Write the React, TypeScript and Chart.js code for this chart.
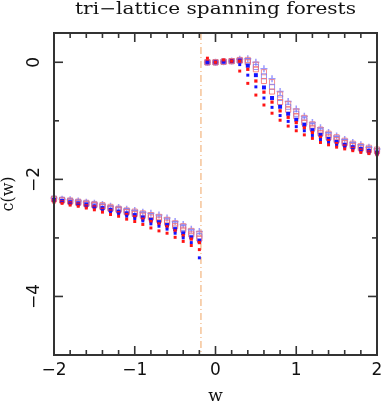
import React, { useEffect, useRef } from "react";
import { Chart, registerables } from "chart.js";

Chart.register(...registerables);

// ---- data ----
const wLeft = [-2.0, -1.9, -1.8, -1.7, -1.6, -1.5, -1.4, -1.3, -1.2, -1.1, -1.0, -0.9, -0.8, -0.7, -0.6, -0.5, -0.4, -0.3, -0.2];
const wRight = [-0.1, 0.0, 0.1, 0.2, 0.3, 0.4, 0.5, 0.6, 0.7, 0.8, 0.9, 1.0, 1.1, 1.2, 1.3, 1.4, 1.5, 1.6, 1.7, 1.8, 1.9, 2.0];

// series 1 (red, small filled)
const s1Left = [-2.39, -2.41, -2.44, -2.46, -2.49, -2.52, -2.56, -2.6, -2.63, -2.68, -2.72, -2.77, -2.83, -2.88, -2.92, -2.99, -3.06, -3.13, -3.2];
const s1Right = [0.07, 0.0, 0.04, 0.02, -0.15, -0.36, -0.56, -0.73, -0.87, -0.99, -1.09, -1.17, -1.24, -1.3, -1.37, -1.41, -1.45, -1.48, -1.51, -1.54, -1.56, -1.58];
// series 2 (blue, small filled)
const s2Left = [-2.37, -2.39, -2.42, -2.44, -2.47, -2.49, -2.53, -2.56, -2.59, -2.63, -2.67, -2.71, -2.76, -2.8, -2.85, -2.92, -3.0, -3.08, -3.34];
const s2Right = [0.0, 0.0, 0.01, 0.02, -0.04, -0.22, -0.42, -0.61, -0.77, -0.91, -1.01, -1.1, -1.17, -1.25, -1.32, -1.37, -1.42, -1.45, -1.49, -1.52, -1.55, -1.57];
// series 3 (red, filled)
const s3Left = [-2.36, -2.38, -2.4, -2.42, -2.45, -2.47, -2.51, -2.54, -2.57, -2.6, -2.64, -2.68, -2.72, -2.76, -2.81, -2.88, -2.96, -3.02, -3.08];
const s3Right = [0.01, 0.0, 0.02, 0.02, 0.02, -0.12, -0.32, -0.51, -0.68, -0.83, -0.94, -1.03, -1.12, -1.2, -1.28, -1.34, -1.39, -1.43, -1.47, -1.5, -1.53, -1.55];
// series 4 (blue, filled)
const s4Left = [-2.35, -2.37, -2.39, -2.41, -2.43, -2.46, -2.49, -2.52, -2.55, -2.58, -2.61, -2.65, -2.69, -2.73, -2.78, -2.85, -2.92, -2.99, -3.05];
const s4Right = [0.0, 0.0, 0.01, 0.02, 0.03, -0.06, -0.22, -0.43, -0.61, -0.76, -0.88, -0.98, -1.07, -1.16, -1.24, -1.31, -1.36, -1.41, -1.45, -1.48, -1.51, -1.54];
// series 5 (red, open square)
const s5Left = [-2.34, -2.36, -2.38, -2.4, -2.42, -2.44, -2.47, -2.5, -2.52, -2.56, -2.59, -2.62, -2.65, -2.69, -2.74, -2.8, -2.86, -2.94, -3.01];
const s5Right = [0.0, 0.0, 0.01, 0.02, 0.03, 0.0, -0.12, -0.32, -0.5, -0.68, -0.81, -0.92, -1.03, -1.12, -1.21, -1.28, -1.33, -1.38, -1.43, -1.47, -1.5, -1.52];
// series 6 (blue, open square)
const s6Left = [-2.33, -2.35, -2.37, -2.39, -2.41, -2.43, -2.46, -2.49, -2.51, -2.54, -2.57, -2.6, -2.63, -2.67, -2.72, -2.77, -2.83, -2.91, -2.97];
const s6Right = [0.0, 0.0, 0.01, 0.02, 0.03, 0.02, -0.08, -0.24, -0.42, -0.61, -0.76, -0.88, -0.99, -1.09, -1.18, -1.25, -1.31, -1.36, -1.41, -1.45, -1.48, -1.51];
// series 7 (red, open square, light)
const s7Left = [-2.33, -2.35, -2.36, -2.38, -2.4, -2.42, -2.44, -2.47, -2.5, -2.53, -2.55, -2.58, -2.61, -2.64, -2.69, -2.75, -2.8, -2.88, -2.93];
const s7Right = [0.0, 0.0, 0.01, 0.02, 0.04, 0.04, -0.04, -0.17, -0.34, -0.55, -0.71, -0.84, -0.95, -1.06, -1.15, -1.22, -1.28, -1.34, -1.39, -1.43, -1.46, -1.49];
// series 8 (blue, plus)
const s8Left = [-2.32, -2.34, -2.35, -2.37, -2.39, -2.41, -2.43, -2.46, -2.48, -2.51, -2.53, -2.56, -2.58, -2.61, -2.66, -2.72, -2.77, -2.85, -2.89];
const s8Right = [0.0, 0.0, 0.01, 0.02, 0.05, 0.06, 0.0, -0.11, -0.28, -0.5, -0.67, -0.8, -0.92, -1.03, -1.12, -1.2, -1.26, -1.32, -1.37, -1.41, -1.45, -1.48];

const wCritical = -0.18;
const xMin = -2;
const xMax = 2;
const yMin = -5;
const yMax = 0.5;
const xMajorTicks = [-2, -1, 0, 1, 2];
const xTickLabels = ["\u22122", "\u22121", "0", "1", "2"];
const xMinorTicks = [-1.8, -1.6, -1.4, -1.2, -0.8, -0.6, -0.4, -0.2, 0.2, 0.4, 0.6, 0.8, 1.2, 1.4, 1.6, 1.8];
const yMajorTicks = [0, -2, -4];
const yTickLabels = ["0", "\u22122", "\u22124"];
const yMinorTicks = [-1, -3];
const titleText = "tri\u2212lattice spanning forests";
const xTitle = "w";
const yTitle = "c(w)";

function pts(left: number[], right: number[]) {
  return wLeft.map((w, i) => ({ x: w, y: left[i] })).concat(wRight.map((w, i) => ({ x: w, y: right[i] })));
}

const framePlugin = {
  id: "frameTicks",
  afterDatasetsDraw(chart: any) {
    const { ctx, chartArea: a, scales } = chart;
    const xs = scales.x;
    const ys = scales.y;
    ctx.save();
    ctx.strokeStyle = "#333";
    ctx.lineWidth = 2;
    ctx.strokeRect(a.left, a.top, a.right - a.left, a.bottom - a.top);
    ctx.lineWidth = 1.6;
    const seg = (x1: number, y1: number, x2: number, y2: number) => {
      ctx.beginPath();
      ctx.moveTo(x1, y1);
      ctx.lineTo(x2, y2);
      ctx.stroke();
    };
    xMajorTicks.forEach((v) => {
      const p = xs.getPixelForValue(v);
      seg(p, a.bottom, p, a.bottom - 9);
      seg(p, a.top, p, a.top + 9);
    });
    xMinorTicks.forEach((v) => {
      const p = xs.getPixelForValue(v);
      seg(p, a.bottom, p, a.bottom - 5);
      seg(p, a.top, p, a.top + 5);
    });
    yMajorTicks.forEach((v) => {
      const p = ys.getPixelForValue(v);
      seg(a.left, p, a.left + 9, p);
      seg(a.right, p, a.right - 9, p);
    });
    yMinorTicks.forEach((v) => {
      const p = ys.getPixelForValue(v);
      seg(a.left, p, a.left + 5, p);
      seg(a.right, p, a.right - 5, p);
    });

    ctx.fillStyle = "#111";
    ctx.font = '17px "DejaVu Sans"';
    ctx.textAlign = "center";
    ctx.textBaseline = "middle";
    xMajorTicks.forEach((v, i) => {
      ctx.fillText(xTickLabels[i], xs.getPixelForValue(v), a.bottom + 16);
    });
    yMajorTicks.forEach((v, i) => {
      ctx.save();
      ctx.translate(a.left - 19, ys.getPixelForValue(v));
      ctx.rotate(-Math.PI / 2);
      ctx.fillText(yTickLabels[i], 0, 0);
      ctx.restore();
    });

    // axis titles
    ctx.font = '17px "DejaVu Serif"';
    ctx.textBaseline = "alphabetic";
    ctx.fillText(xTitle, (a.left + a.right) / 2, a.bottom + 46);
    ctx.save();
    ctx.font = '16px "DejaVu Serif"';
    ctx.translate(a.left - 45, (a.top + a.bottom) / 2);
    ctx.rotate(-Math.PI / 2);
    ctx.textBaseline = "middle";
    ctx.fillText(yTitle, 0, 0);
    ctx.restore();

    // title (stretched horizontally to the reference width)
    ctx.font = '16px "DejaVu Serif"';
    ctx.textBaseline = "alphabetic";
    const target = 281;
    const w0 = ctx.measureText(titleText).width;
    ctx.save();
    ctx.translate((a.left + a.right) / 2, 14);
    ctx.scale(target / w0, 1);
    ctx.fillText(titleText, 0, 0);
    ctx.restore();
    ctx.restore();
  },
};

export default function App() {
  const ref = useRef<HTMLCanvasElement | null>(null);
  useEffect(() => {
    document.body.style.margin = "0";
    const canvas = ref.current;
    if (!canvas) return;
    const red = "rgb(255,20,20)";
    const blue = "rgb(20,20,255)";
    const chart = new Chart(canvas, {
      type: "scatter",
      data: {
        datasets: [
          {
            label: "critical",
            data: [
              { x: wCritical, y: yMax },
              { x: wCritical, y: yMin },
            ],
            showLine: true,
            borderColor: "rgb(240,165,100)",
            borderWidth: 1,
            borderDash: [7, 3, 1, 3],
            pointRadius: 0,
            order: 10,
          } as any,
          {
            label: "s8",
            data: pts(s8Left, s8Right),
            pointStyle: "cross",
            pointRadius: 3.5,
            borderColor: "rgba(120,120,255,0.75)",
            borderWidth: 1.5,
            order: 9,
          },
          {
            label: "s7",
            data: pts(s7Left, s7Right),
            pointStyle: "rect",
            pointRadius: 3.6,
            backgroundColor: "rgba(0,0,0,0)",
            borderColor: "rgba(240,120,120,0.8)",
            borderWidth: 1,
            order: 8,
          },
          {
            label: "s6",
            data: pts(s6Left, s6Right),
            pointStyle: "rect",
            pointRadius: 3.6,
            backgroundColor: "rgba(0,0,0,0)",
            borderColor: "rgba(120,120,245,0.8)",
            borderWidth: 1,
            order: 7,
          },
          {
            label: "s5",
            data: pts(s5Left, s5Right),
            pointStyle: "rect",
            pointRadius: 3.6,
            backgroundColor: "rgba(0,0,0,0)",
            borderColor: "rgba(245,110,110,0.85)",
            borderWidth: 1,
            order: 6,
          },
          {
            label: "s4",
            data: pts(s4Left, s4Right),
            pointStyle: "rect",
            pointRadius: 2.8,
            backgroundColor: blue,
            borderColor: blue,
            borderWidth: 0,
            order: 5,
          },
          {
            label: "s3",
            data: pts(s3Left, s3Right),
            pointStyle: "rect",
            pointRadius: 2.3,
            backgroundColor: red,
            borderColor: red,
            borderWidth: 0,
            order: 4,
          },
          {
            label: "s2",
            data: pts(s2Left, s2Right),
            pointStyle: "rect",
            pointRadius: 2.1,
            backgroundColor: blue,
            borderColor: blue,
            borderWidth: 0,
            order: 3,
          },
          {
            label: "s1",
            data: pts(s1Left, s1Right),
            pointStyle: "rect",
            pointRadius: 2.1,
            backgroundColor: red,
            borderColor: red,
            borderWidth: 0,
            order: 2,
          },
        ],
      },
      options: {
        animation: false,
        responsive: false,
        maintainAspectRatio: false,
        clip: false as any,
        layout: { padding: { left: 54, right: 6, top: 33, bottom: 50 } },
        scales: {
          x: { type: "linear", min: xMin, max: xMax, display: false },
          y: { type: "linear", min: yMin, max: yMax, display: false },
        },
        plugins: {
          legend: { display: false },
          tooltip: { enabled: false },
          title: { display: false },
        },
      },
      plugins: [framePlugin],
    });
    return () => chart.destroy();
  }, []);
  return <canvas ref={ref} width={383} height={405} style={{ display: "block" }} />;
}
